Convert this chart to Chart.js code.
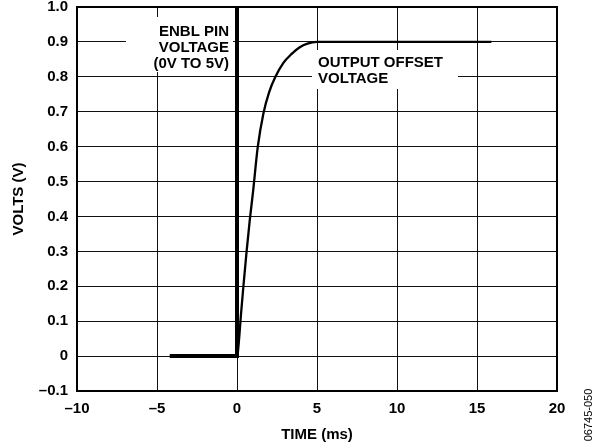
<!DOCTYPE html>
<html>
<head>
<meta charset="utf-8">
<script src="https://cdn.jsdelivr.net/npm/chart.js@4/dist/chart.umd.min.js"></script>
<style>
  body { margin: 0; background: #fff; }
  #wrap { width: 600px; height: 444px; }
</style>
</head>
<body>
<div id="wrap"><canvas id="chart" width="600" height="444"></canvas></div>
<script>
"use strict";

// ENBL pin step (clipped at the top of the plot)
const enblTime = [-4.2, 0, 0];
const enblVolts = [0, 0, 5];

// output offset voltage settling
const outTime = [-4.2, 0, 0.05, 0.15, 0.25, 0.4, 0.6, 0.8, 1.0, 1.3, 1.65, 2.0, 2.4, 2.9, 3.4, 3.9, 4.4, 5.0, 15.9];
const outVolts = [0, 0, 0.01, 0.06, 0.12, 0.2, 0.3, 0.39, 0.47, 0.6, 0.695, 0.755, 0.80, 0.84, 0.865, 0.884, 0.895, 0.9, 0.9];

const xTicks = [-10, -5, 0, 5, 10, 15, 20];
const yTicks = [-0.1, 0, 0.1, 0.2, 0.3, 0.4, 0.5, 0.6, 0.7, 0.8, 0.9, 1.0];

const enblLabel = ['ENBL PIN', 'VOLTAGE', '(0V TO 5V)'];
const outLabel = ['OUTPUT OFFSET', 'VOLTAGE'];

const FONT = '"Liberation Sans", Arial, sans-serif';

function toPoints(xs, ys) {
    return xs.map((x, i) => ({ x: x, y: ys[i] }));
}

function fmtY(v) {
    if (Math.abs(v) < 1e-9) return '0';
    return (v < 0 ? '\u2013' : '') + Math.abs(v).toFixed(1);
}

function fmtX(v) {
    return (v < 0 ? '\u2013' : '') + Math.abs(v);
}

// white boxes + labels, frame and side code
const extras = {
    id: 'extras',
    beforeDatasetsDraw(chart) {
        const ctx = chart.ctx;
        ctx.save();
        ctx.fillStyle = '#fff';
        ctx.fillRect(126, 17, 107, 55);
        ctx.fillRect(312, 50, 146, 39);
        ctx.fillStyle = '#000';
        ctx.font = 'bold 15px ' + FONT;
        ctx.textBaseline = 'alphabetic';
        ctx.textAlign = 'right';
        enblLabel.forEach((t, i) => ctx.fillText(t, 229, 36 + i * 15.8));
        ctx.textAlign = 'left';
        outLabel.forEach((t, i) => ctx.fillText(t, 318, 66.5 + i * 16));
        ctx.restore();
    },
    afterDatasetsDraw(chart) {
        const a = chart.chartArea;
        const ctx = chart.ctx;
        ctx.save();
        ctx.strokeStyle = '#000';
        ctx.lineWidth = 2;
        ctx.strokeRect(a.left, a.top, a.right - a.left, a.bottom - a.top);
        ctx.translate(589, 415);
        ctx.rotate(-Math.PI / 2);
        ctx.fillStyle = '#000';
        ctx.font = '11px ' + FONT;
        ctx.textAlign = 'center';
        ctx.textBaseline = 'middle';
        ctx.fillText('06745-050', 0, 0);
        ctx.restore();
    }
};

new Chart(document.getElementById('chart'), {
    type: 'scatter',
    data: {
        datasets: [
            {
                data: toPoints(outTime, outVolts),
                showLine: true,
                borderColor: '#000',
                borderWidth: 2.3,
                pointRadius: 0,
                cubicInterpolationMode: 'monotone'
            },
            {
                data: toPoints(enblTime, enblVolts),
                showLine: true,
                borderColor: '#000',
                borderWidth: 4,
                pointRadius: 0,
                tension: 0
            }
        ]
    },
    options: {
        responsive: false,
        animation: false,
        devicePixelRatio: 1,
        layout: { padding: { left: 0, right: 43, top: 7, bottom: 0 } },
        plugins: {
            legend: { display: false },
            tooltip: { enabled: false }
        },
        scales: {
            x: {
                type: 'linear',
                min: -10,
                max: 20,
                afterBuildTicks: s => { s.ticks = xTicks.map(v => ({ value: v })); },
                afterFit: s => {
                    s.height = 53;
                    s.paddingLeft = 0;
                    s.paddingRight = 0;
                },
                ticks: {
                    callback: fmtX,
                    color: '#000',
                    padding: 9,
                    maxRotation: 0,
                    font: { family: FONT, size: 15, weight: 'bold' }
                },
                grid: { color: '#111', lineWidth: 1, drawTicks: false },
                border: { display: true, color: '#000', width: 2 },
                title: {
                    display: true,
                    text: 'TIME (ms)',
                    color: '#000',
                    padding: { top: 0, bottom: 0 },
                    font: { family: FONT, size: 15, weight: 'bold' }
                }
            },
            y: {
                type: 'linear',
                min: -0.1,
                max: 1.0,
                afterBuildTicks: s => { s.ticks = yTicks.map(v => ({ value: v })); },
                afterFit: s => {
                    s.width = 77;
                    s.paddingTop = 0;
                    s.paddingBottom = 0;
                },
                ticks: {
                    callback: fmtY,
                    color: '#000',
                    padding: 9,
                    font: { family: FONT, size: 15, weight: 'bold' }
                },
                grid: { color: '#111', lineWidth: 1, drawTicks: false },
                border: { display: true, color: '#000', width: 2 },
                title: {
                    display: true,
                    text: 'VOLTS (V)',
                    color: '#000',
                    padding: { top: 10, bottom: 0 },
                    font: { family: FONT, size: 15, weight: 'bold' }
                }
            }
        }
    },
    plugins: [extras]
});
</script>
</body>
</html>
